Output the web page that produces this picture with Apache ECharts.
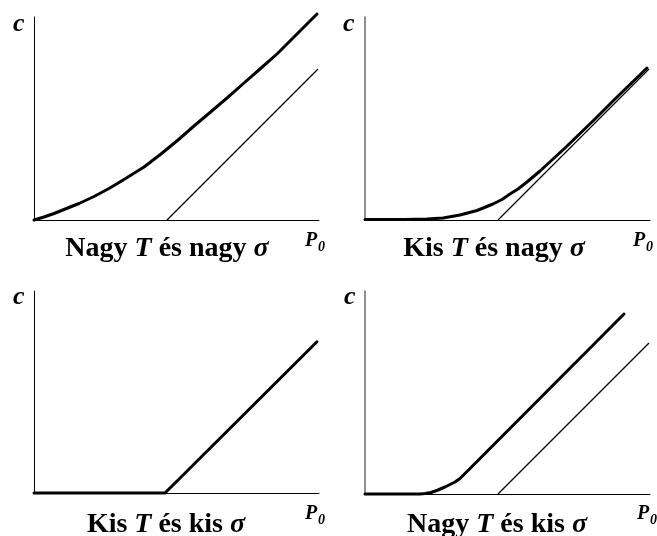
<!DOCTYPE html>
<html>
<head>
<meta charset="utf-8">
<title>Opcióérték görbék</title>
<script src="https://cdn.jsdelivr.net/npm/echarts@6/dist/echarts.min.js"></script>
<style>
  html, body { margin: 0; padding: 0; background: #fff; }
  #chart { width: 657px; height: 536px; }
</style>
</head>
<body>
<div id="chart"></div>
<script>
// Panel captions
const panelTitles = [
  ['Nagy ', 'T', ' és nagy ', 'σ'],
  ['Kis ', 'T', ' és nagy ', 'σ'],
  ['Kis ', 'T', ' és kis ', 'σ'],
  ['Nagy ', 'T', ' és kis ', 'σ']
];

// Axis ranges (P0 horizontally, c vertically)
const xMax = 285;
const yMax = 203;

// Option value curves, [P0, c]
const callLargeTLargeSigma = [[0,0],[10,3],[20,6.5],[30,10.5],[45,16.5],[60,23.5],[75,31.5],[90,40.5],[110,53],[127,66],[144,80],[160,94],[176,107.5],[193,122],[210,137],[226,151],[243,166],[259,182],[283,206]];
const callSmallTLargeSigma = [[0,0.5],[40,0.5],[62,1],[78,2],[95,5],[112,9.5],[128,16],[137,20.5],[145,26],[153,31],[162,38],[175,49],[200,72],[230,101],[250,121],[282,152]];
const callSmallTSmallSigma = [[0,0],[131,0],[283,152]];
const callLargeTSmallSigma = [[0,0],[55,0],[60,0.4],[66,1.5],[73,4],[80,7],[85,9.5],[90,12],[95,15.5],[100,20.5],[112,32.5],[259,180]];

// Intrinsic value lines max(P0 - X, 0), drawn from the strike onwards
const intrinsicTop = [[133,0],[284,151]];
const intrinsicBottom = [[133,0],[284,151]];

const grids = [
  { left: 34,  top: 17,  width: 285, height: 203 },
  { left: 365, top: 17,  width: 285, height: 203 },
  { left: 34,  top: 291, width: 285, height: 202 },
  { left: 365, top: 291, width: 285, height: 203 }
];
const yAxisColors = ['#000', '#6a6a6a', '#000', '#6a6a6a'];
const yAxisWidths = [1, 1.5, 1, 1.5];

const serif = '"Liberation Serif", "Times New Roman", serif';

function axisCommon(i, max, color, width) {
  return {
    type: 'value', gridIndex: i, min: 0, max: max,
    axisLine: { show: true, onZero: false, lineStyle: { color: color, width: width } },
    axisTick: { show: false }, axisLabel: { show: false }, splitLine: { show: false }
  };
}

function thick(i, data) {
  return {
    type: 'line', xAxisIndex: i, yAxisIndex: i, data: data,
    symbol: 'none', clip: false, z: 4,
    lineStyle: { color: '#000', width: 3, cap: 'round', join: 'round' }
  };
}
function thin(i, data) {
  return {
    type: 'line', xAxisIndex: i, yAxisIndex: i, data: data,
    symbol: 'none', clip: false, z: 3,
    lineStyle: { color: '#000', width: 1.2 }
  };
}

// Caption, axis name texts
const graphics = [];
const captionPos = [[167, 249], [494, 249], [166, 525], [497, 525]];
const cPos = [[13, 24], [343, 24], [13, 297], [344, 297]];
const pPos = [[305, 241], [633, 241], [305, 514], [637, 514]];

captionPos.forEach((p, i) => {
  const t = panelTitles[i];
  graphics.push({
    type: 'text', x: p[0], y: p[1],
    style: {
      text: '{r|' + t[0] + '}{i|' + t[1] + '}{r|' + t[2] + '}{i|' + t[3] + '}',
      align: 'center', verticalAlign: 'middle',
      rich: {
        r: { fontFamily: serif, fontWeight: 'bold', fontSize: 28, fill: '#000' },
        i: { fontFamily: serif, fontWeight: 'bold', fontStyle: 'italic', fontSize: 28, fill: '#000' }
      }
    }
  });
});
cPos.forEach(p => {
  graphics.push({
    type: 'text', x: p[0], y: p[1],
    style: { text: 'c', fontFamily: serif, fontWeight: 'bold', fontStyle: 'italic',
             fontSize: 26, fill: '#000', align: 'left', verticalAlign: 'middle' }
  });
});
pPos.forEach(p => {
  graphics.push({
    type: 'text', x: p[0], y: p[1],
    style: { text: 'P', fontFamily: serif, fontWeight: 'bold', fontStyle: 'italic',
             fontSize: 20, fill: '#000', align: 'left', verticalAlign: 'middle' }
  });
  graphics.push({
    type: 'text', x: p[0] + 13, y: p[1] + 6,
    style: { text: '0', fontFamily: serif, fontWeight: 'bold', fontStyle: 'italic',
             fontSize: 14, fill: '#000', align: 'left', verticalAlign: 'middle' }
  });
});

const chart = echarts.init(document.getElementById('chart'), null, { renderer: 'canvas' });
chart.setOption({
  animation: false,
  backgroundColor: '#fff',
  grid: grids,
  xAxis: grids.map((g, i) => axisCommon(i, xMax, '#000', 1)),
  yAxis: grids.map((g, i) => axisCommon(i, yMax, yAxisColors[i], yAxisWidths[i])),
  series: [
    thin(0, intrinsicTop),
    thick(0, callLargeTLargeSigma),
    thin(1, intrinsicTop),
    thick(1, callSmallTLargeSigma),
    thick(2, callSmallTSmallSigma),
    thin(3, intrinsicBottom),
    thick(3, callLargeTSmallSigma)
  ],
  graphic: graphics
});
</script>
</body>
</html>
